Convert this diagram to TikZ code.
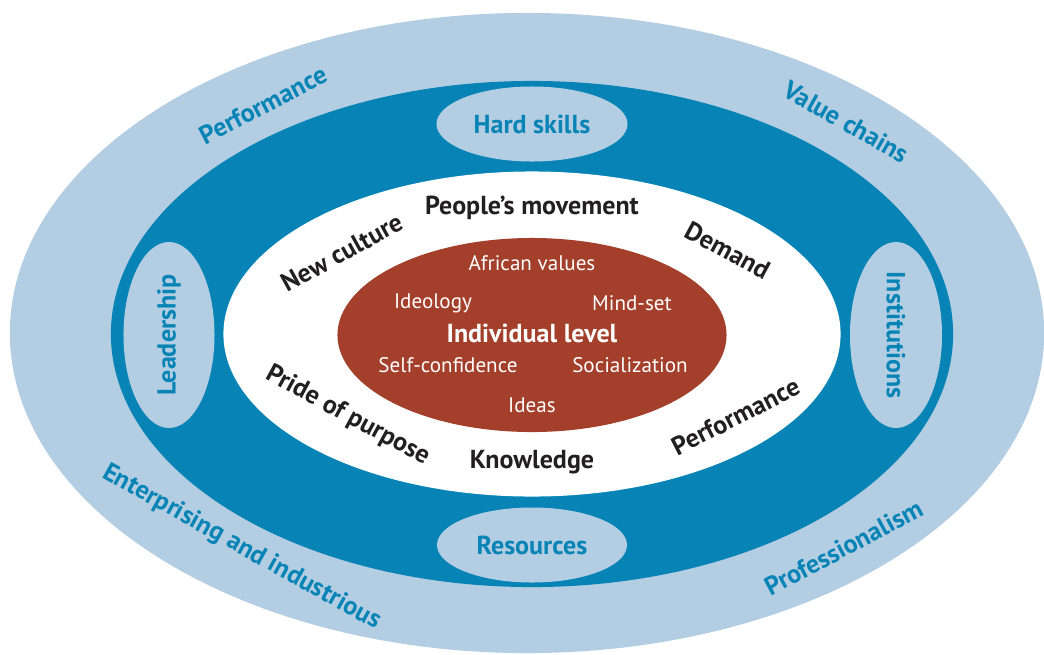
\documentclass[tikz,border=0pt]{standalone}
\usepackage{fontspec}
\setmainfont{PT Sans}
\usetikzlibrary{shapes.geometric}

\definecolor{ringlight}{RGB}{179,205,226}
\definecolor{ringdark}{RGB}{7,132,181}
\definecolor{corebrown}{RGB}{163,63,42}
\definecolor{ink}{RGB}{35,31,32}

\newcommand{\labelfont}{\bfseries\fontsize{18.5}{21}\selectfont}
\newcommand{\valuefont}{\fontsize{15}{18}\selectfont}

\tikzset{
  ring/.style={ellipse, inner sep=0pt, outer sep=0pt},
  pill/.style={ring, fill=ringlight, text=ringdark, font=\labelfont},
  value/.style={text=white, font=\valuefont, inner sep=0pt},
  plain/.style={text=ink, font=\labelfont, inner sep=0pt},
  outerword/.style={text=ringdark, font=\labelfont, inner sep=0pt},
}

\begin{document}
\begin{tikzpicture}[x=0.025cm, y=0.025cm]
\useasboundingbox (-532,-320) rectangle (512,334);

% rings from outside in
\node[ring, fill=ringlight, minimum width=25.85cm, minimum height=16cm, name=outer] at (-5,1) {};
\node[ring, fill=ringdark, minimum width=21.05cm, minimum height=12.65cm, name=middle] at (0,0) {};
\node[ring, fill=white, minimum width=15.425cm, minimum height=8.125cm, name=inner] at (0,0) {};
\node[ring, fill=corebrown, minimum width=9.725cm, minimum height=4.85cm, name=core] at (0,-1) {};

% ellipses sitting on the dark ring
\node[pill, minimum width=4.775cm, minimum height=1.875cm, name=hardskills] at (0,210) {Hard skills};
\node[pill, minimum width=4.75cm, minimum height=1.875cm, name=resources] at (0,-211) {Resources};
\node[pill, rotate=90, minimum width=4.65cm, minimum height=2.275cm, name=leadership] at (-363,-1) {Leadership};
\node[pill, rotate=-90, minimum width=4.65cm, minimum height=2.3cm, name=institutions] at (364,-1) {Institutions};

% values in the core
\node[value, font=\labelfont, name=individual] at (0,1) {Individual level};
\node[value, name=african] at (0,71) {African values};
\node[value, name=ideology] at (-99,31) {Ideology};
\node[value, name=mindset] at (100,31) {Mind-set};
\node[value, name=selfconf] at (-84,-31) {Self-confidence};
\node[value, name=social] at (98,-31) {Socialization};
\node[value, name=ideas] at (0,-71) {Ideas};

% white ring labels
\node[plain, name=movement] at (0,126) {People’s movement};
\node[plain, name=knowledge] at (0,-128) {Knowledge};
\node[plain, rotate=28.7, name=culture] at (-190,81.5) {New culture};
\node[plain, rotate=-28.3, name=demand] at (195.5,83.5) {Demand};
\node[plain, rotate=-28.4, name=pride] at (-184.5,-82) {Pride of purpose};
\node[plain, rotate=27, name=innerperf] at (203.5,-82.5) {Performance};

% outer ring labels
\node[outerword, rotate=27.5, name=outerperf] at (-269,229) {Performance};
\node[outerword, rotate=-29.5, name=valuechains] at (314.5,212) {Value chains};
\node[outerword, rotate=-29, name=enterprising] at (-290.5,-213.5) {Enterprising and industrious};
\node[outerword, rotate=28, name=professional] at (311.5,-213.5) {Professionalism};
\end{tikzpicture}
\end{document}
